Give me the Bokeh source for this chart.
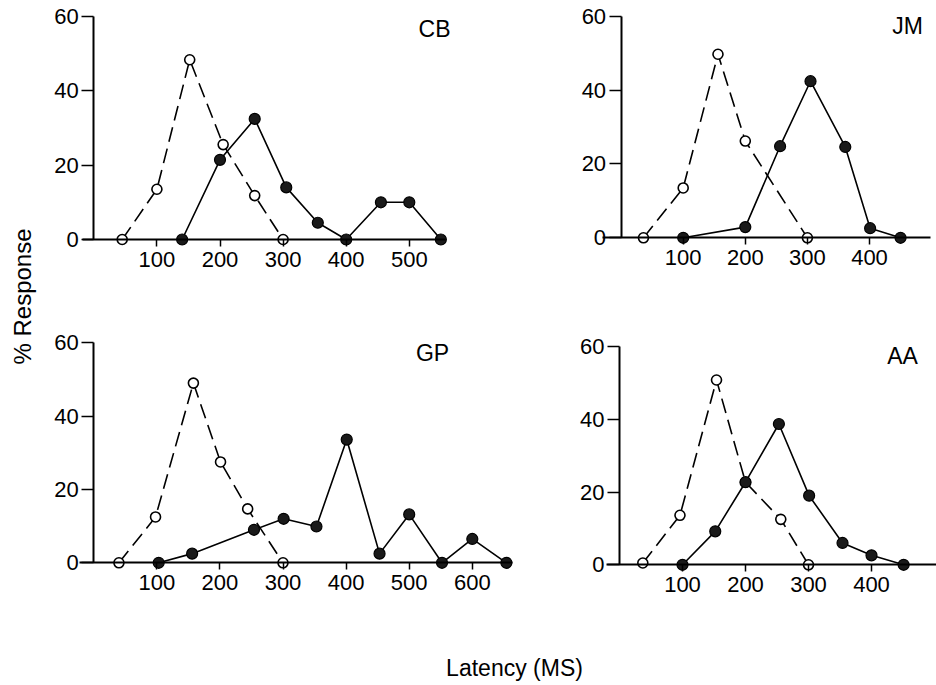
import math
from bokeh.plotting import figure
from bokeh.models import Range1d, LinearAxis, FixedTicker, Label
from bokeh.embed import file_html
from bokeh.resources import INLINE

# ---------------- data ----------------
panel_names = ["CB", "JM", "GP", "AA"]

cb_open_x = [45, 100, 152, 205, 255, 300]
cb_open_y = [0, 13.5, 48.3, 25.5, 11.8, 0]
cb_fill_x = [140, 200, 255, 305, 355, 400, 455, 500, 550]
cb_fill_y = [0, 21.4, 32.4, 14, 4.5, 0, 10, 10, 0]

jm_open_x = [36, 100, 156, 200, 300]
jm_open_y = [0, 13.5, 49.7, 26.2, 0]
jm_fill_x = [100, 200, 256, 305, 361, 401, 450]
jm_fill_y = [0, 2.9, 24.8, 42.4, 24.6, 2.6, 0]

gp_open_x = [40, 98, 158, 201, 244, 300]
gp_open_y = [0, 12.5, 49, 27.5, 14.7, 0]
gp_fill_x = [103, 156, 254, 301, 353, 401, 453, 500, 552, 600, 654]
gp_fill_y = [0, 2.5, 9, 12, 9.9, 33.6, 2.5, 13.2, 0, 6.5, 0]

aa_open_x = [37, 96, 154, 200, 256, 300]
aa_open_y = [0.5, 13.6, 50.8, 22.7, 12.5, 0]
aa_fill_x = [100, 152, 200, 253, 301, 354, 400, 451]
aa_fill_y = [0, 9.2, 22.7, 38.7, 19, 6, 2.6, 0]

y_ticks = [0, 20, 40, 60]
cb_x_ticks = [100, 200, 300, 400, 500]
jm_x_ticks = [100, 200, 300, 400]
gp_x_ticks = [100, 200, 300, 400, 500, 600]
aa_x_ticks = [100, 200, 300, 400]

x_label = "Latency (MS)"
y_label = "% Response"

# ---------------- layout ----------------
W, H = 936, 685
OFF = 0  # the page template has no body margin
FONT = "Liberation Sans"

# panel geometry in page pixels: origin x, px per ms, origin y, px per %, x-axis extent (ms)
geom = {
    "CB": dict(X0=93.3, kx=0.631, Y0=239.0, ky=3.722, xb=(-18, 558)),
    "JM": dict(X0=620.6, kx=0.621, Y0=237.3, ky=3.693, xb=(-30, 499)),
    "GP": dict(X0=93.2, kx=0.631, Y0=562.3, ky=3.667, xb=(-22, 663)),
    "AA": dict(X0=619.0, kx=0.630, Y0=564.3, ky=3.638, xb=(-20, 530)),
}
title_pos = {"CB": (434, 28), "JM": (907, 25), "GP": (432, 352), "AA": (902, 355)}

series = {
    "CB": (cb_open_x, cb_open_y, cb_fill_x, cb_fill_y, cb_x_ticks),
    "JM": (jm_open_x, jm_open_y, jm_fill_x, jm_fill_y, jm_x_ticks),
    "GP": (gp_open_x, gp_open_y, gp_fill_x, gp_fill_y, gp_x_ticks),
    "AA": (aa_open_x, aa_open_y, aa_fill_x, aa_fill_y, aa_x_ticks),
}

p = figure(width=W, height=H, output_backend="svg", toolbar_location=None,
           x_range=Range1d(0, W), y_range=Range1d(0, H),
           x_axis_type=None, y_axis_type=None, min_border=0,
           background_fill_color="white", border_fill_color="white")
p.outline_line_color = None
p.xgrid.visible = False
p.ygrid.visible = False

for name in panel_names:
    g = geom[name]
    ox, oy, fx, fy, xt = series[name]
    xs = -(g["X0"] - OFF) / g["kx"]
    ys = -((OFF + H) - g["Y0"]) / g["ky"]
    xr, yr = "x" + name, "y" + name
    p.extra_x_ranges[xr] = Range1d(xs, xs + W / g["kx"])
    p.extra_y_ranges[yr] = Range1d(ys, ys + H / g["ky"])

    xax = LinearAxis(x_range_name=xr, y_range_name=yr, fixed_location=0,
                     bounds=g["xb"], ticker=FixedTicker(ticks=xt))
    xax.axis_line_width = 2
    xax.major_tick_line_width = 1.5
    xax.major_tick_out = 7
    xax.major_tick_in = 0
    xax.minor_tick_out = 0
    xax.major_label_standoff = 5
    xax.major_label_text_font = FONT
    xax.major_label_text_font_size = "22px"
    xax.major_label_text_color = "black"
    p.add_layout(xax, "below")

    yax = LinearAxis(x_range_name=xr, y_range_name=yr, fixed_location=0,
                     bounds=(0, 60), ticker=FixedTicker(ticks=y_ticks))
    yax.axis_line_width = 2
    yax.major_tick_line_width = 1.5
    yax.major_tick_out = 12
    yax.major_tick_in = 0
    yax.minor_tick_out = 0
    yax.major_label_standoff = 3
    yax.major_label_text_font = FONT
    yax.major_label_text_font_size = "22px"
    yax.major_label_text_color = "black"
    p.add_layout(yax, "left")

    p.line(ox, oy, x_range_name=xr, y_range_name=yr, line_color="black",
           line_width=1.6, line_dash="15 7")
    p.line(fx, fy, x_range_name=xr, y_range_name=yr, line_color="black",
           line_width=1.6)
    p.scatter(ox, oy, x_range_name=xr, y_range_name=yr, marker="circle",
              size=10, fill_color="white", line_color="black", line_width=1.6)
    p.scatter(fx, fy, x_range_name=xr, y_range_name=yr, marker="circle",
              size=11, fill_color="#1a1a1a", line_color="black", line_width=1.2)

    tx, ty = title_pos[name]
    p.add_layout(Label(x=tx - OFF, y=H - (ty - OFF), x_units="screen", y_units="screen",
                       text=name, text_font=FONT, text_font_size="23px",
                       text_align="center", text_baseline="middle", text_color="black"))

p.add_layout(Label(x=22 - OFF, y=H - (296 - OFF), x_units="screen", y_units="screen",
                   text=y_label, angle=math.pi / 2, text_font=FONT, text_font_size="24px",
                   text_align="center", text_baseline="middle", text_color="black"))
p.add_layout(Label(x=514 - OFF, y=H - (667 - OFF), x_units="screen", y_units="screen",
                   text=x_label, text_font=FONT, text_font_size="23px",
                   text_align="center", text_baseline="middle", text_color="black"))

open("out.html", "w").write(file_html(p, INLINE))
